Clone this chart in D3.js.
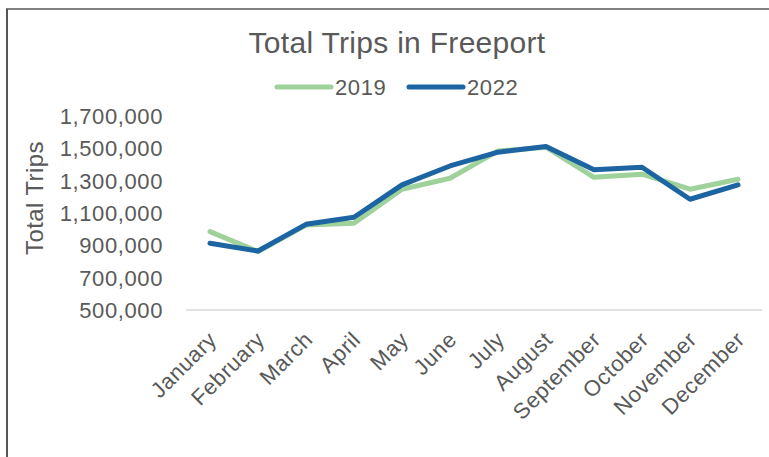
<!DOCTYPE html>
<html>
<head>
<meta charset="utf-8">
<script src="https://cdn.jsdelivr.net/npm/d3@7/dist/d3.min.js"></script>
<style>
  body { margin: 0; background: #fff; }
  text { font-family: "Liberation Sans", Arial, sans-serif; fill: #595959; }
</style>
</head>
<body>
<div id="chart"></div>
<script>
var width = 769,
    height = 457;

var months = ["January", "February", "March", "April", "May", "June",
  "July", "August", "September", "October", "November", "December"];
var trips2019 = [985000, 861000, 1026000, 1037000, 1247000, 1315000,
  1484000, 1507000, 1321000, 1340000, 1247000, 1309000];
var trips2022 = [913000, 865000, 1030000, 1074000, 1274000, 1391000,
  1476000, 1511000, 1367000, 1383000, 1185000, 1274000];
var yTicks = [500000, 700000, 900000, 1100000, 1300000, 1500000, 1700000];

var series = [
  { name: "2019", values: trips2019, color: "#9fd19b" },
  { name: "2022", values: trips2022, color: "#1c64a2" }
];

var svg = d3.select("#chart")
  .append("svg")
  .attr("width", width)
  .attr("height", height);

// chart frame (cut off on right / bottom)
svg.append("line")
  .attr("x1", 6).attr("x2", width).attr("y1", 9).attr("y2", 9)
  .attr("stroke", "#000").attr("stroke-width", 1.2);
svg.append("line")
  .attr("x1", 7).attr("x2", 7).attr("y1", 9).attr("y2", height)
  .attr("stroke", "#555").attr("stroke-width", 2);

var x = d3.scaleBand()
  .domain(months)
  .range([186, 762]);

var y = d3.scaleLinear()
  .domain([500000, 1700000])
  .range([310, 116]);

// title
svg.append("text")
  .attr("x", 397)
  .attr("y", 53)
  .attr("text-anchor", "middle")
  .style("font-size", "30px")
  .style("letter-spacing", "0.3px")
  .text("Total Trips in Freeport");

// legend
var legend = svg.append("g");
series.forEach(function (s, i) {
  var lx = 277 + 132 * i;
  legend.append("line")
    .attr("x1", lx).attr("x2", lx + 54)
    .attr("y1", 87).attr("y2", 87)
    .attr("stroke", s.color)
    .attr("stroke-width", 5)
    .attr("stroke-linecap", "round");
  legend.append("text")
    .attr("x", lx + 58)
    .attr("y", 95)
    .style("font-size", "22px")
    .style("letter-spacing", "0.6px")
    .text(s.name);
});

// y axis labels
svg.append("g")
  .selectAll("text")
  .data(yTicks)
  .join("text")
  .attr("x", 163)
  .attr("y", function (d) { return y(d); })
  .attr("dy", "0.36em")
  .attr("text-anchor", "end")
  .style("font-size", "22px")
  .style("letter-spacing", "0.6px")
  .text(function (d) { return d3.format(",")(d); });

svg.append("text")
  .attr("transform", "translate(43,198) rotate(-90)")
  .attr("text-anchor", "middle")
  .style("font-size", "24px")
  .style("letter-spacing", "0.4px")
  .text("Total Trips");

// baseline
svg.append("line")
  .attr("x1", x.range()[0]).attr("x2", x.range()[1])
  .attr("y1", y(500000)).attr("y2", y(500000))
  .attr("stroke", "#d9d9d9")
  .attr("stroke-width", 1.5);

// x labels
svg.append("g")
  .selectAll("text")
  .data(months)
  .join("text")
  .attr("transform", function (d) {
    return "translate(" + (x(d) + x.bandwidth() / 2 + 8) + ",341) rotate(-45)";
  })
  .attr("text-anchor", "end")
  .style("font-size", "22px")
  .style("letter-spacing", "0.6px")
  .text(function (d) { return d; });

// lines
var line = d3.line()
  .x(function (d, i) { return x(months[i]) + x.bandwidth() / 2; })
  .y(function (d) { return y(d); });

svg.append("g")
  .selectAll("path")
  .data(series)
  .join("path")
  .attr("d", function (s) { return line(s.values); })
  .attr("fill", "none")
  .attr("stroke", function (s) { return s.color; })
  .attr("stroke-width", 5)
  .attr("stroke-linejoin", "round")
  .attr("stroke-linecap", "round");
</script>
</body>
</html>
